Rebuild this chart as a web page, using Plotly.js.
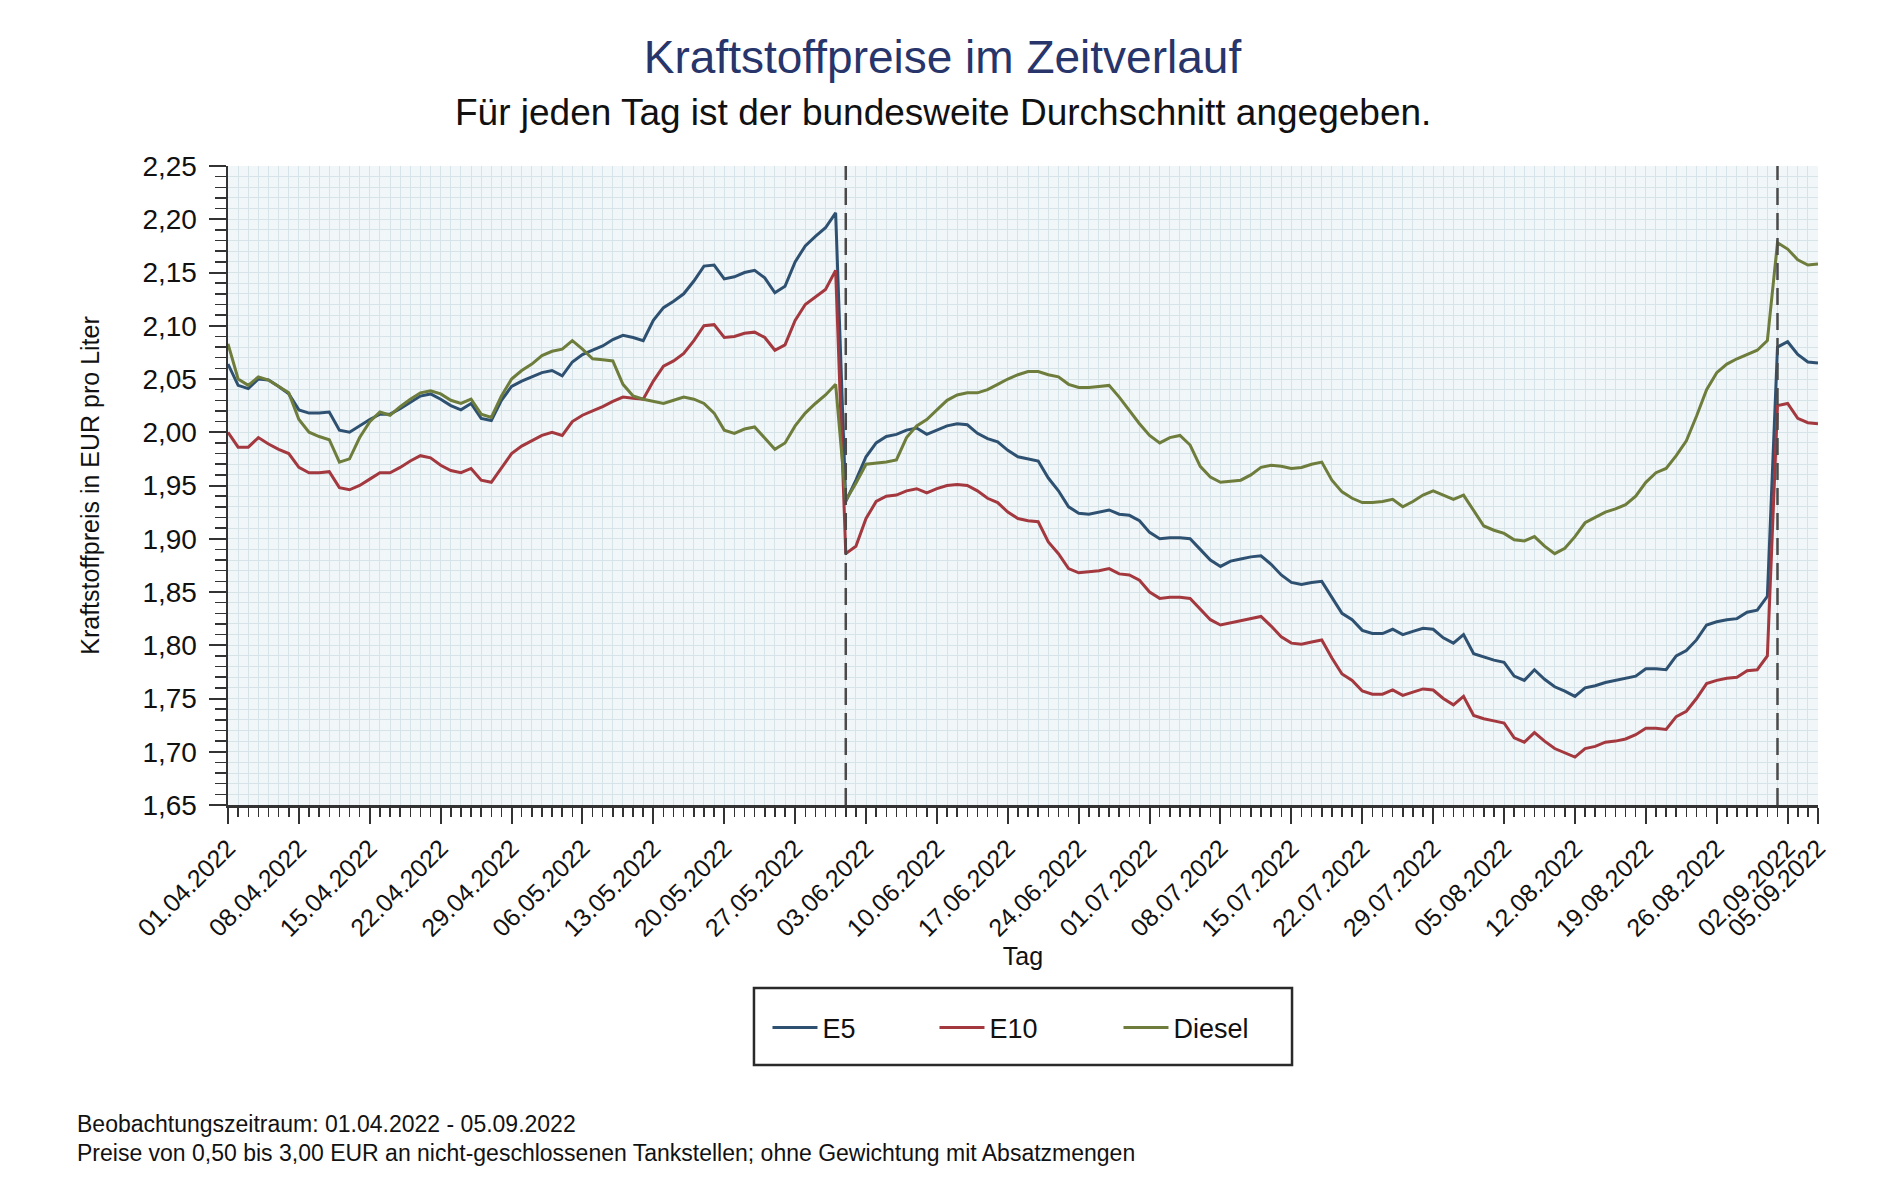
<!DOCTYPE html>
<html>
<head>
<meta charset="utf-8">
<script src="https://cdn.plot.ly/plotly-3.0.1.min.js"></script>
<style>
html,body{margin:0;padding:0;background:#ffffff;}
#chart{width:1885px;height:1200px;}
</style>
</head>
<body>
<div id="chart"></div>
<script>
// ---- data (daily national averages, EUR per litre), 01.04.2022 - 05.09.2022 ----
const startDate = '2022-04-01';
const dayCount = 158;

const e5 = [
2.064,2.044,2.041,2.050,2.049,2.043,2.036,2.021,2.018,2.018,
2.019,2.002,2.000,2.006,2.012,2.017,2.017,2.022,2.028,2.034,
2.036,2.031,2.025,2.021,2.027,2.013,2.011,2.030,2.043,2.048,
2.052,2.056,2.058,2.053,2.066,2.073,2.077,2.081,2.087,2.091,
2.089,2.086,2.105,2.117,2.123,2.130,2.142,2.156,2.157,2.144,
2.146,2.150,2.152,2.145,2.131,2.137,2.160,2.175,2.184,2.192,
2.206,1.935,1.955,1.977,1.990,1.996,1.998,2.002,2.004,1.998,
2.002,2.006,2.008,2.007,1.999,1.994,1.991,1.983,1.977,1.975,
1.973,1.957,1.945,1.930,1.924,1.923,1.925,1.927,1.923,1.922,
1.917,1.906,1.900,1.901,1.901,1.900,1.890,1.880,1.874,1.879,
1.881,1.883,1.884,1.876,1.866,1.859,1.857,1.859,1.860,1.845,
1.830,1.824,1.814,1.811,1.811,1.815,1.810,1.813,1.816,1.815,
1.807,1.802,1.810,1.792,1.789,1.786,1.784,1.771,1.767,1.777,
1.768,1.761,1.757,1.752,1.760,1.762,1.765,1.767,1.769,1.771,
1.778,1.778,1.777,1.790,1.795,1.805,1.819,1.822,1.824,1.825,
1.831,1.833,1.846,2.080,2.085,2.073,2.066,2.065
];

const e10 = [
2.000,1.986,1.986,1.995,1.989,1.984,1.980,1.967,1.962,1.962,
1.963,1.948,1.946,1.950,1.956,1.962,1.962,1.967,1.973,1.978,
1.976,1.969,1.964,1.962,1.966,1.955,1.953,1.966,1.980,1.987,
1.992,1.997,2.000,1.997,2.010,2.016,2.020,2.024,2.029,2.033,
2.032,2.031,2.048,2.062,2.067,2.074,2.086,2.100,2.101,2.089,
2.090,2.093,2.094,2.089,2.077,2.082,2.105,2.120,2.127,2.134,
2.152,1.886,1.893,1.919,1.935,1.940,1.941,1.945,1.947,1.943,
1.947,1.950,1.951,1.950,1.945,1.938,1.934,1.925,1.919,1.917,
1.916,1.897,1.886,1.872,1.868,1.869,1.870,1.872,1.867,1.866,
1.861,1.850,1.844,1.845,1.845,1.844,1.834,1.824,1.819,1.821,
1.823,1.825,1.827,1.818,1.808,1.802,1.801,1.803,1.805,1.788,
1.773,1.767,1.757,1.754,1.754,1.758,1.753,1.756,1.759,1.758,
1.750,1.744,1.752,1.734,1.731,1.729,1.727,1.713,1.709,1.718,
1.710,1.703,1.699,1.695,1.703,1.705,1.709,1.710,1.712,1.716,
1.722,1.722,1.721,1.733,1.738,1.750,1.764,1.767,1.769,1.770,
1.776,1.777,1.790,2.025,2.027,2.013,2.009,2.008
];

const diesel = [
2.083,2.050,2.044,2.052,2.049,2.043,2.037,2.012,2.000,1.996,
1.993,1.972,1.975,1.995,2.010,2.019,2.016,2.024,2.031,2.037,
2.039,2.036,2.030,2.027,2.031,2.017,2.014,2.034,2.050,2.058,
2.064,2.072,2.076,2.078,2.086,2.078,2.069,2.068,2.067,2.045,
2.034,2.031,2.029,2.027,2.030,2.033,2.031,2.027,2.018,2.002,
1.999,2.003,2.005,1.994,1.984,1.990,2.006,2.018,2.027,2.035,
2.045,1.936,1.952,1.970,1.971,1.972,1.974,1.995,2.006,2.012,
2.021,2.030,2.035,2.037,2.037,2.040,2.045,2.050,2.054,2.057,
2.057,2.054,2.052,2.045,2.042,2.042,2.043,2.044,2.033,2.020,
2.008,1.997,1.990,1.995,1.997,1.988,1.968,1.958,1.953,1.954,
1.955,1.960,1.967,1.969,1.968,1.966,1.967,1.970,1.972,1.955,
1.944,1.938,1.934,1.934,1.935,1.937,1.930,1.935,1.941,1.945,
1.941,1.937,1.941,1.927,1.912,1.908,1.905,1.899,1.898,1.902,
1.893,1.886,1.891,1.902,1.915,1.920,1.925,1.928,1.932,1.940,
1.953,1.962,1.966,1.978,1.992,2.015,2.040,2.056,2.064,2.069,
2.073,2.077,2.086,2.178,2.172,2.162,2.157,2.158
];

const seriesNames = ['E5', 'E10', 'Diesel'];
const seriesColors = ['#2e5172', '#a3383f', '#6e7c3c'];

const tickDates = [
'2022-04-01','2022-04-08','2022-04-15','2022-04-22','2022-04-29',
'2022-05-06','2022-05-13','2022-05-20','2022-05-27','2022-06-03',
'2022-06-10','2022-06-17','2022-06-24','2022-07-01','2022-07-08',
'2022-07-15','2022-07-22','2022-07-29','2022-08-05','2022-08-12',
'2022-08-19','2022-08-26','2022-09-02','2022-09-05'
];
const tickLabels = [
'01.04.2022','08.04.2022','15.04.2022','22.04.2022','29.04.2022',
'06.05.2022','13.05.2022','20.05.2022','27.05.2022','03.06.2022',
'10.06.2022','17.06.2022','24.06.2022','01.07.2022','08.07.2022',
'15.07.2022','22.07.2022','29.07.2022','05.08.2022','12.08.2022',
'19.08.2022','26.08.2022','02.09.2022','05.09.2022'
];

const markerDates = ['2022-06-01', '2022-09-01'];

const titleText = 'Kraftstoffpreise im Zeitverlauf';
const subtitleText = 'Für jeden Tag ist der bundesweite Durchschnitt angegeben.';
const xTitle = 'Tag';
const yTitle = 'Kraftstoffpreis in EUR pro Liter';
const noteLines = [
'Beobachtungszeitraum: 01.04.2022 - 05.09.2022',
'Preise von 0,50 bis 3,00 EUR an nicht-geschlossenen Tankstellen; ohne Gewichtung mit Absatzmengen'
];

// ---- build ----
function buildDays(start, n) {
  const parts = start.split('-').map(Number);
  const out = [];
  for (let i = 0; i < n; i++) {
    out.push(new Date(Date.UTC(parts[0], parts[1] - 1, parts[2] + i)).toISOString().slice(0, 10));
  }
  return out;
}
const days = buildDays(startDate, dayCount);

const legendWidths = [107, 124, 80];
const seriesValues = [e5, e10, diesel];
const traces = seriesValues.map((vals, i) => ({
  type: 'scatter',
  mode: 'lines',
  name: seriesNames[i],
  x: days,
  y: vals,
  line: {color: seriesColors[i], width: 3},
  legendwidth: legendWidths[i],
  hoverinfo: 'skip'
}));

const FONT = 'Liberation Sans, Arial, Helvetica, sans-serif';
const gridCol = '#d6e4ea';

const shapes = markerDates.map(d => ({
  type: 'line', xref: 'x', yref: 'paper',
  x0: d, x1: d, y0: 0, y1: 1,
  line: {color: '#4a4a4a', width: 2.5, dash: '17px,8px'},
  layer: 'above'
}));
// legend frame
shapes.push({
  type: 'rect', xref: 'paper', yref: 'paper',
  x0: 0.3308, x1: 0.6692, y0: -0.2864, y1: -0.4069,
  line: {color: '#2a2a2a', width: 2.5}, fillcolor: 'rgba(0,0,0,0)'
});

const annotations = [
  {text: subtitleText, xref: 'paper', yref: 'paper', x: 0.4495, y: 1.0845,
   xanchor: 'center', yanchor: 'middle', showarrow: false,
   font: {family: FONT, size: 37, color: '#111111'}},
  {text: noteLines[0], xref: 'paper', yref: 'paper', x: -0.0956, y: -0.4985,
   xanchor: 'left', yanchor: 'middle', showarrow: false, borderpad: 0,
   font: {family: FONT, size: 23, color: '#111111'}},
  {text: noteLines[1], xref: 'paper', yref: 'paper', x: -0.0956, y: -0.5444,
   xanchor: 'left', yanchor: 'middle', showarrow: false, borderpad: 0,
   font: {family: FONT, size: 23, color: '#111111'}}
];

const layout = {
  width: 1885, height: 1200,
  margin: {l: 228, r: 67, t: 166, b: 395, autoexpand: false},
  paper_bgcolor: '#ffffff',
  plot_bgcolor: '#f1f6f8',
  separators: ',.',
  font: {family: FONT, color: '#111111'},
  showlegend: true,
  title: {
    text: titleText,
    xref: 'container', x: 0.5, xanchor: 'center',
    yref: 'container', y: 1 - 57 / 1200, yanchor: 'middle',
    font: {family: FONT, size: 46, color: '#27356b'}
  },
  xaxis: {
    type: 'date',
    range: [days[0], days[days.length - 1]],
    tickmode: 'array', tickvals: tickDates, ticktext: tickLabels,
    tickangle: -45,
    tickfont: {family: FONT, size: 25, color: '#111111'},
    ticks: 'outside', ticklen: 16, tickwidth: 2, tickcolor: '#333333',
    showline: true, linecolor: '#333333', linewidth: 2.5,
    showgrid: true, gridcolor: gridCol, gridwidth: 1,
    zeroline: false,
    minor: {dtick: 86400000, tick0: days[0], ticks: 'outside', ticklen: 9, tickwidth: 1.5,
            tickcolor: '#333333', showgrid: true, gridcolor: gridCol, gridwidth: 1},
    title: {text: xTitle, standoff: 0, font: {family: FONT, size: 25, color: '#111111'}},
    fixedrange: true
  },
  yaxis: {
    range: [1.65, 2.25],
    dtick: 0.05, tick0: 1.65,
    tickformat: '.2f',
    tickfont: {family: FONT, size: 28, color: '#111111'},
    ticks: 'outside', ticklen: 17, tickwidth: 2, tickcolor: '#333333',
    ticklabelstandoff: 6,
    showline: true, linecolor: '#333333', linewidth: 2.5,
    showgrid: true, gridcolor: gridCol, gridwidth: 1,
    zeroline: false,
    minor: {dtick: 0.01, ticks: 'outside', ticklen: 11, tickwidth: 1.5, tickcolor: '#333333',
            showgrid: true, gridcolor: gridCol, gridwidth: 1},
    title: {text: yTitle, standoff: 36, font: {family: FONT, size: 25, color: '#111111'}},
    fixedrange: true
  },
  legend: {
    orientation: 'h',
    x: 0.4937, xanchor: 'center',
    y: -0.349, yanchor: 'middle',
    bgcolor: 'rgba(0,0,0,0)', borderwidth: 0,
    itemwidth: 45,
    font: {family: FONT, size: 27, color: '#111111'}
  },
  shapes: shapes,
  annotations: annotations
};

Plotly.newPlot('chart', traces, layout, {displayModeBar: false, staticPlot: true});
</script>
</body>
</html>
